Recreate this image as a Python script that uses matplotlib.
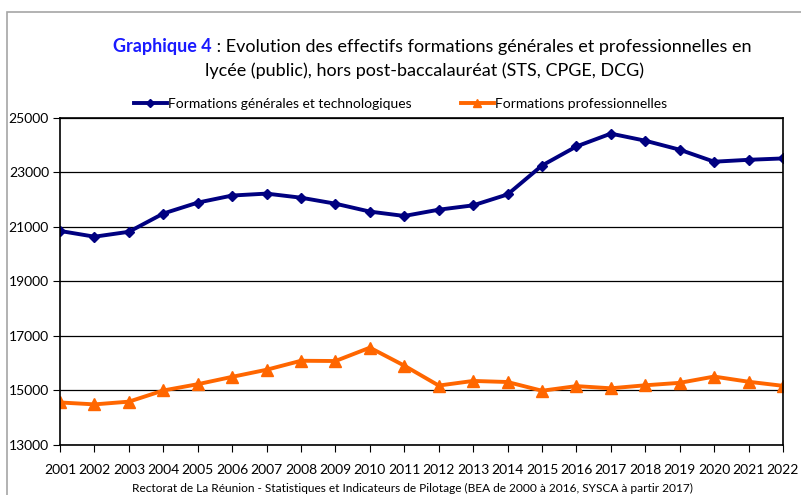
import matplotlib.pyplot as plt
from matplotlib.patches import Rectangle

# Données
annees = list(range(2001, 2023))
generales = [20850, 20640, 20820, 21490, 21890, 22150, 22220, 22070, 21850, 21560,
             21400, 21630, 21790, 22190, 23250, 23950, 24420, 24160, 23830, 23390,
             23460, 23510]
professionnelles = [14560, 14490, 14590, 15000, 15230, 15500, 15760, 16090, 16080, 16570,
                    15910, 15180, 15350, 15310, 14990, 15160, 15080, 15190, 15280, 15510,
                    15320, 15170]
yticks = [13000, 15000, 17000, 19000, 21000, 23000, 25000]

plt.rcParams['font.family'] = ['Lato', 'DejaVu Sans']

fig = plt.figure(figsize=(8.01, 4.95), dpi=100)
ax = fig.add_axes([0.075, 0.101, 0.9025, 0.661])

# cadre gris autour du graphique
fig.patches.append(Rectangle((7 / 801, -0.01), 1.0, 1 - 12 / 495 + 0.01,
                             transform=fig.transFigure, fill=False,
                             edgecolor='#a6a6a6', linewidth=1.2))

ax.plot(annees, generales, color='#000080', marker='D', markersize=5.5,
        linewidth=2.8, label='Formations générales et technologiques')
ax.plot(annees, professionnelles, color='#ff6600', marker='^', markersize=8,
        linewidth=2.8, label='Formations professionnelles')

ax.set_xlim(2001, 2022)
ax.set_ylim(13000, 25000)
ax.set_yticks(yticks)
ax.set_xticks(annees)
ax.set_xticklabels([str(a) for a in annees], fontsize=10)
ax.tick_params(axis='y', labelsize=10, direction='out', length=5, pad=3)
ax.tick_params(axis='x', direction='out', length=5, pad=9)
ax.grid(axis='y', color='black', linewidth=0.9)
ax.set_axisbelow(True)
for s in ax.spines.values():
    s.set_linewidth(1.2)
    s.set_color('black')

# titre en deux morceaux (partie bleue en gras)
t1 = fig.text(113 / 801, 0.906, 'Graphique 4', color='#1a1aff', fontsize=13,
              fontweight='bold', ha='left', va='center')
fig.canvas.draw()
bb = t1.get_window_extent()
fig.text(bb.x1 / fig.bbox.width, 0.906,
         ' : Evolution des effectifs formations générales et professionnelles en',
         fontsize=13, ha='left', va='center')
fig.text(0.53, 0.858, 'lycée (public), hors post-baccalauréat (STS, CPGE, DCG)',
         fontsize=13, ha='center', va='center')

fig.legend(loc='center', bbox_to_anchor=(0.5, 0.79), ncol=2, frameon=False,
           fontsize=10, handlelength=2.4, handletextpad=0.1, columnspacing=3.5,
           markerscale=0.7)

fig.text(0.515, 0.014, 'Rectorat de La Réunion - Statistiques et Indicateurs de Pilotage '
         '(BEA de 2000 à 2016, SYSCA à partir 2017)', fontsize=8.6, ha='center', va='center')

fig.savefig('out.png', dpi=100)
